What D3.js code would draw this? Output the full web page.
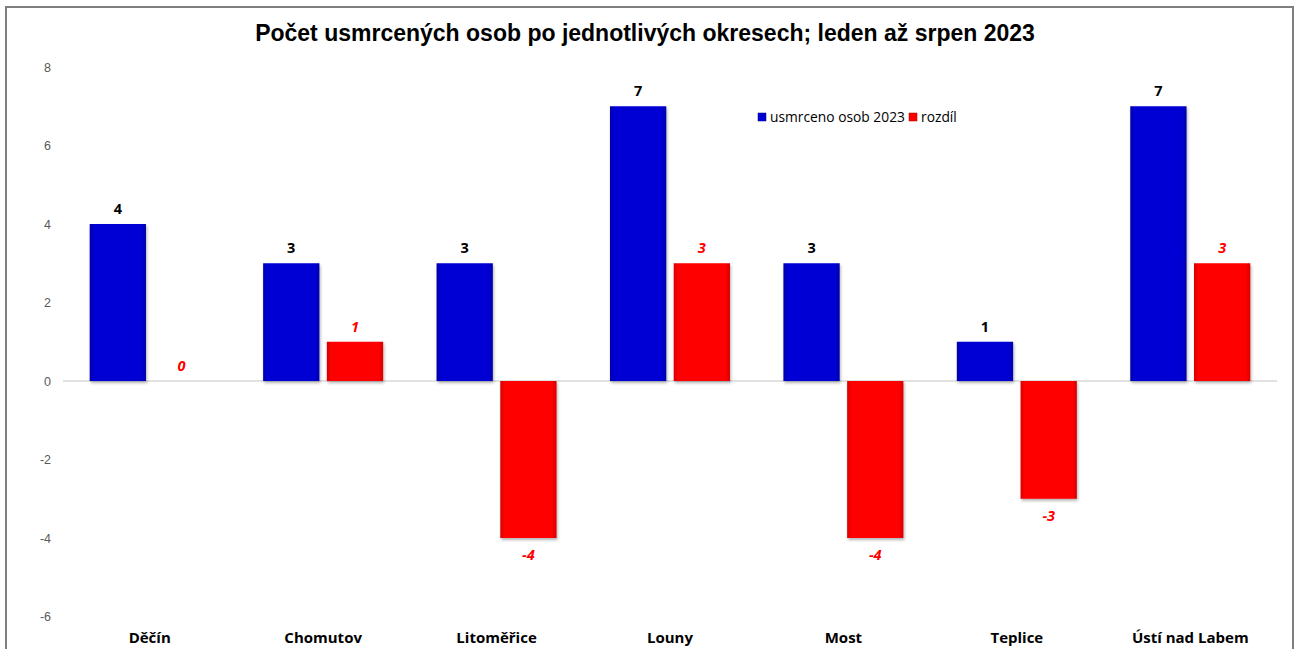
<!DOCTYPE html>
<html>
<head>
<meta charset="utf-8">
<script src="https://cdn.jsdelivr.net/npm/d3@7"></script>
<style>
  body { margin: 0; background: #fff; }
  text { font-family: "Open Sans", "Noto Sans", sans-serif; }
</style>
</head>
<body>
<div id="app"></div>
<script>
const districts = ['Děčín', 'Chomutov', 'Litoměřice', 'Louny', 'Most', 'Teplice', 'Ústí nad Labem']
const killed2023 = [4, 3, 3, 7, 3, 1, 7]
const difference = [0, 1, -4, 3, -4, -3, 3]
const yTicks = [-6, -4, -2, 0, 2, 4, 6, 8]
const seriesNames = ['usmrceno osob 2023', 'rozdíl']

const W = 1297, H = 649
const svg = d3.select('#app').append('svg').attr('width', W).attr('height', H)

// outer frame
svg.append('rect').attr('x', 6).attr('y', 7).attr('width', 1287).attr('height', 660)
  .attr('fill', '#fff').attr('stroke', '#7f7f7f').attr('stroke-width', 2)

const defs = svg.append('defs')
function grad(id, mid, edge) {
  const g = defs.append('linearGradient').attr('id', id).attr('x1', 0).attr('x2', 1).attr('y1', 0).attr('y2', 0)
  g.append('stop').attr('offset', '0%').attr('stop-color', edge)
  g.append('stop').attr('offset', '8%').attr('stop-color', mid)
  g.append('stop').attr('offset', '92%').attr('stop-color', mid)
  g.append('stop').attr('offset', '100%').attr('stop-color', edge)
}
grad('gBlue', '#0000d4', '#0000a8')
grad('gRed', '#ff0000', '#d80000')
const f = defs.append('filter').attr('id', 'shadow').attr('x', '-20%').attr('y', '-20%').attr('width', '140%').attr('height', '140%')
f.append('feDropShadow').attr('dx', 1).attr('dy', 2).attr('stdDeviation', 1.5).attr('flood-color', '#000').attr('flood-opacity', 0.3)

const x0 = d3.scaleBand().domain(districts).range([63, 1277]).paddingInner(0).paddingOuter(0)
const x1 = d3.scaleBand().domain(seriesNames).range([26.7, 146.7]).paddingInner(0.117)
const y = d3.scaleLinear().domain([-6, 8]).range([616.5, 67])

svg.append('text').attr('x', 645).attr('y', 41).attr('text-anchor', 'middle')
  .style('font-family', '"Liberation Sans", Arial, sans-serif')
  .attr('font-weight', 'bold').attr('font-size', 23).attr('fill', '#000')
  .text('Počet usmrcených osob po jednotlivých okresech; leden až srpen 2023')

// y axis (no line, no ticks)
const yAxis = d3.axisLeft(y).tickValues(yTicks).tickSize(0).tickPadding(0).tickFormat(d => String(d))
const ya = svg.append('g').attr('transform', 'translate(51,0)').call(yAxis)
ya.select('.domain').remove()
ya.selectAll('text').attr('font-size', 12.5).attr('fill', '#595959')
  .style('font-family', '"Liberation Sans", Arial, sans-serif')

// zero line
svg.append('line').attr('x1', 63).attr('x2', 1277).attr('y1', y(0)).attr('y2', y(0))
  .attr('stroke', '#d9d9d9').attr('stroke-width', 1.5)

const rows = districts.map((d, i) => ({ d, vals: [killed2023[i], difference[i]] }))
const groups = svg.selectAll('g.grp').data(rows).enter().append('g')
  .attr('class', 'grp').attr('transform', r => `translate(${x0(r.d)},0)`)

groups.selectAll('rect.bar').data(r => r.vals.map((v, k) => ({ v, k })).filter(o => o.v !== 0))
  .enter().append('rect').attr('class', 'bar')
  .attr('x', o => x1(seriesNames[o.k]))
  .attr('width', x1.bandwidth())
  .attr('y', o => y(Math.max(0, o.v)))
  .attr('height', o => Math.abs(y(o.v) - y(0)))
  .attr('fill', o => o.k === 0 ? 'url(#gBlue)' : 'url(#gRed)')
  .attr('filter', 'url(#shadow)')

// value labels
groups.selectAll('text.val').data(r => r.vals.map((v, k) => ({ v, k })))
  .enter().append('text').attr('class', 'val')
  .attr('x', o => x1(seriesNames[o.k]) + x1.bandwidth() / 2)
  .attr('y', o => o.v >= 0 ? y(o.v) - 10 : y(o.v) + 22)
  .attr('text-anchor', 'middle')
  .attr('font-size', 14.5).attr('font-weight', 'bold')
  .attr('font-style', o => o.k === 1 ? 'italic' : 'normal')
  .attr('fill', o => o.k === 0 ? '#000' : '#ff0000')
  .text(o => o.v)

// category labels
svg.append('g').selectAll('text').data(districts).enter().append('text')
  .attr('x', d => x0(d) + x0.bandwidth() / 2).attr('y', 643)
  .attr('text-anchor', 'middle').attr('font-size', 15).attr('font-weight', 'bold').attr('fill', '#000')
  .text(d => d)

// legend
const legend = svg.append('g').attr('transform', 'translate(758,113)')
const lx = [0, 151]
seriesNames.forEach((s, k) => {
  legend.append('rect').attr('x', lx[k]).attr('y', 0).attr('width', 8).attr('height', 8)
    .attr('fill', k === 0 ? '#0000d4' : '#ff0000').attr('stroke', k === 0 ? '#000080' : '#a00000').attr('stroke-width', 0.5)
  legend.append('text').attr('x', lx[k] + 12).attr('y', 9).attr('font-size', 13.8).attr('fill', '#000').text(s)
})
</script>
</body>
</html>
